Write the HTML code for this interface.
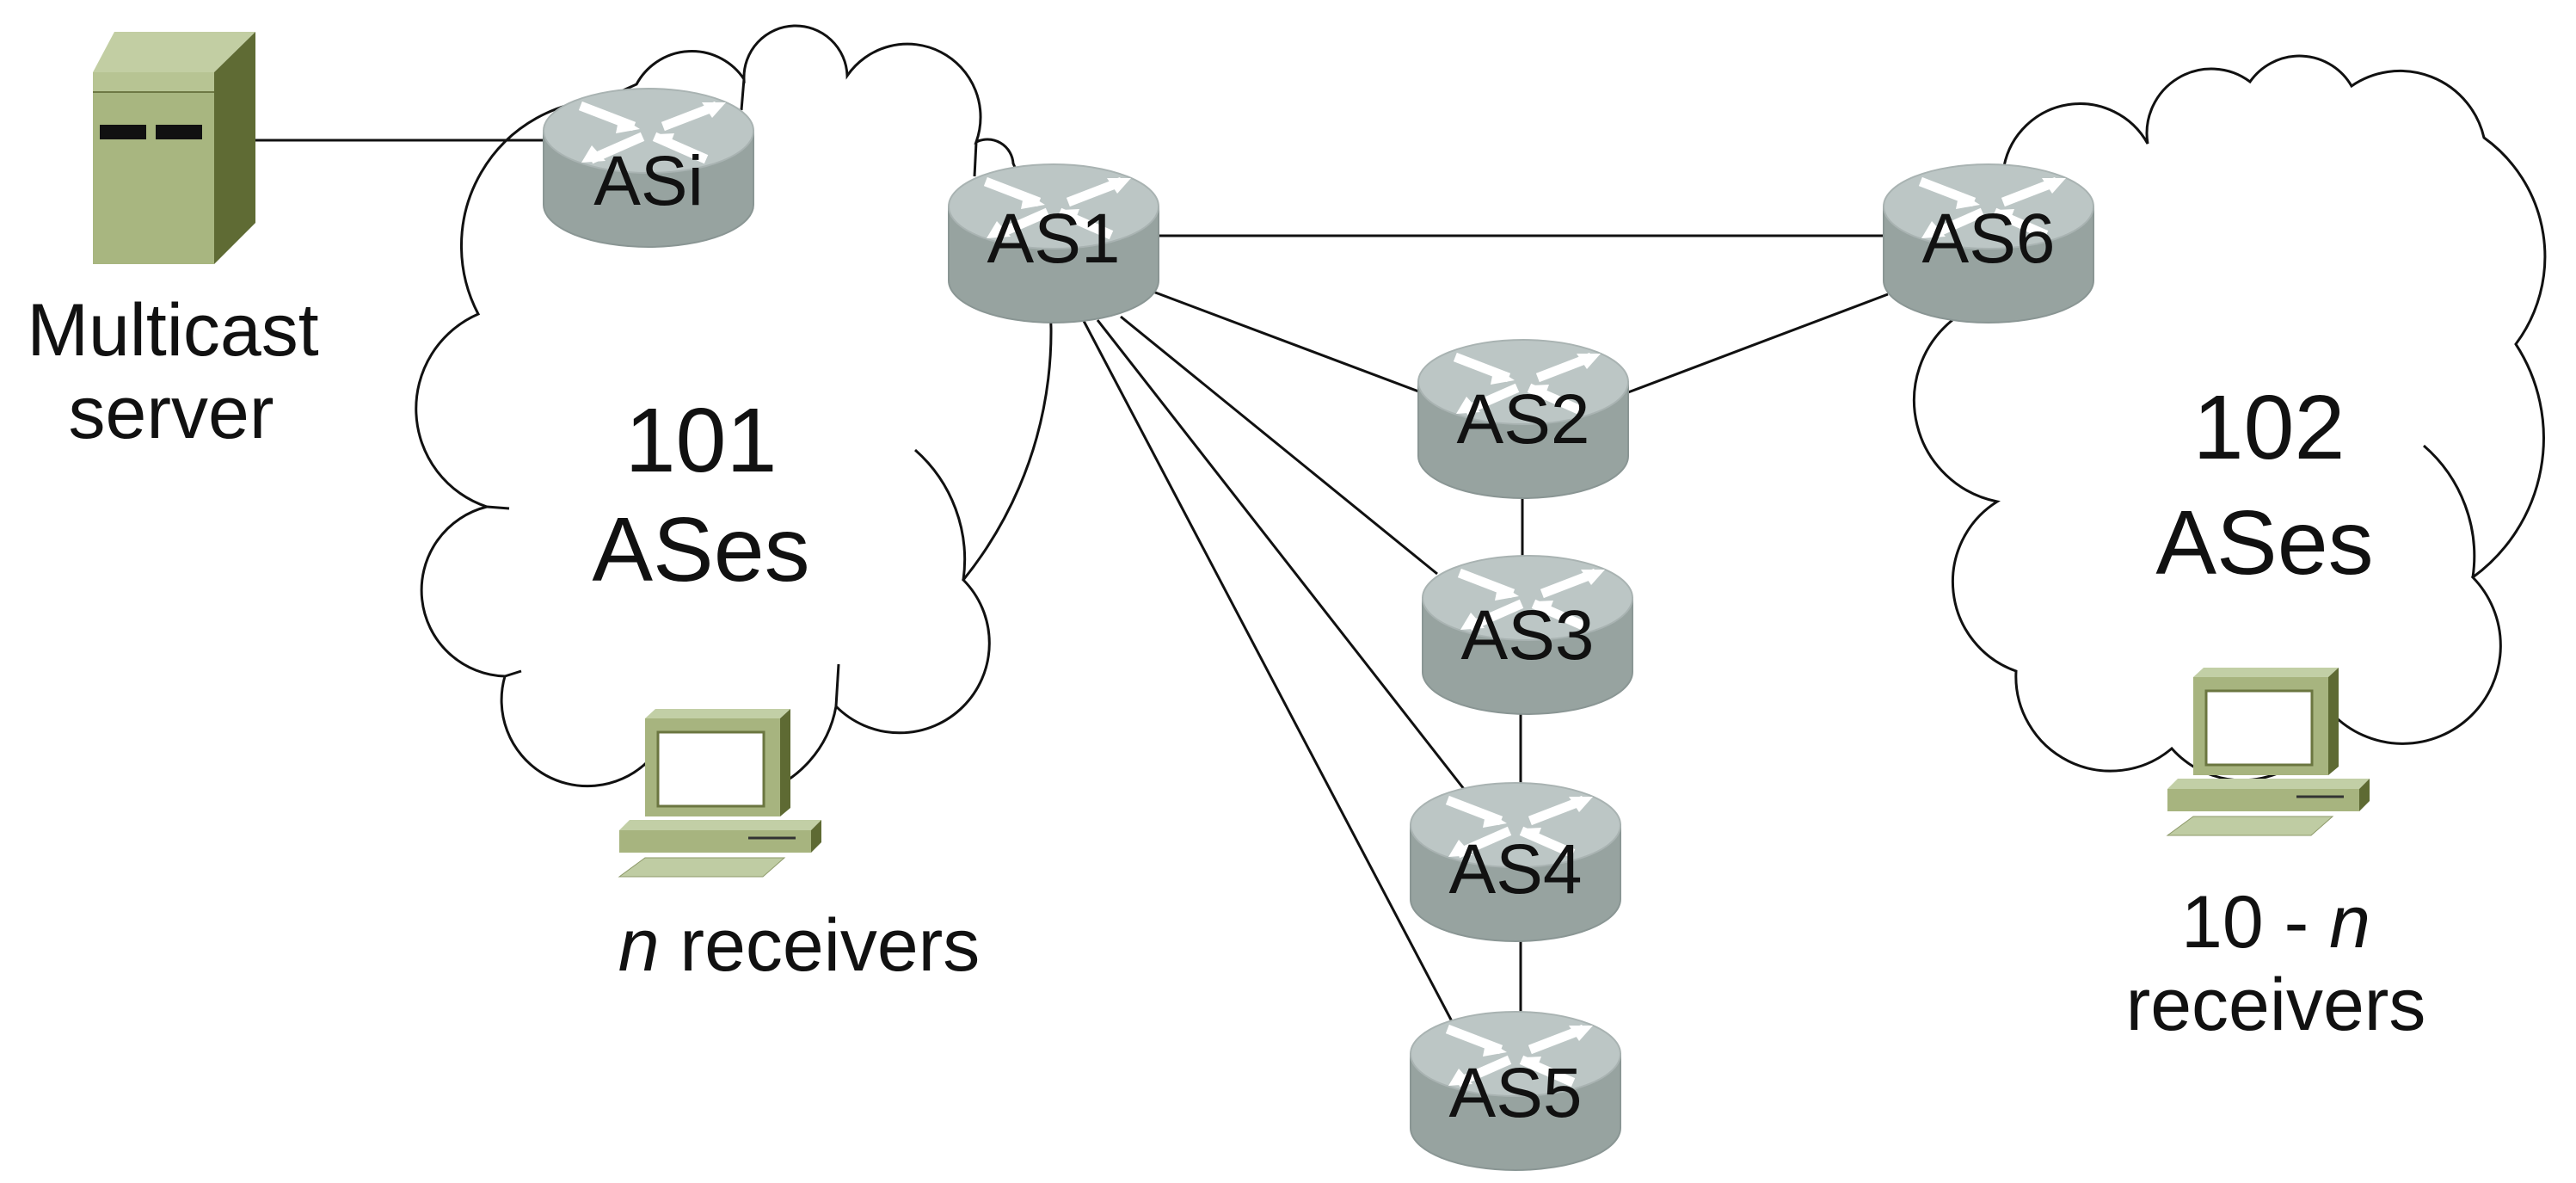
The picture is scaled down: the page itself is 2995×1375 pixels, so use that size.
<!DOCTYPE html>
<html><head><meta charset="utf-8"><style>
html,body{margin:0;padding:0;background:#fff;}
svg{display:block;}
text{font-family:"Liberation Sans",sans-serif;fill:#111;}
</style></head><body>
<svg width="2995" height="1375" viewBox="0 0 2995 1375" xmlns="http://www.w3.org/2000/svg">
<defs>
<g id="rt">
  <path d="M0,49 L0,135 A122,49 0 0 0 244,135 L244,49 Z" fill="#97a3a0" stroke="#8a9694" stroke-width="2"/>
  <ellipse cx="122" cy="49" rx="122" ry="49" fill="#bcc6c5" stroke="#a9b3b2" stroke-width="2"/>
  <g stroke="#fff" stroke-width="11" fill="none" stroke-linecap="square">
    <line x1="48" y1="22" x2="100" y2="42"/>
    <line x1="196" y1="22" x2="144" y2="42"/>
    <line x1="110" y1="58" x2="60" y2="80"/>
    <line x1="134" y1="58" x2="184" y2="80"/>
  </g>
  <g fill="#fff">
    <polygon points="112,47 88,32 84,52"/>
    <polygon points="212,16 184,16 196,34"/>
    <polygon points="44,86 56,66 72,84"/>
    <polygon points="132,53 152,52 146,68"/>
  </g>
</g>
<g id="pc">
  <polygon points="750,790 762,779 919,779 907,790" fill="#c2cfa6"/>
  <rect x="750" y="790" width="157" height="114" fill="#a7b47f"/>
  <polygon points="907,790 919,779 919,894 907,904" fill="#5e6a33"/>
  <rect x="765" y="806" width="123" height="86" fill="#fff" stroke="#6b7640" stroke-width="3"/>
  <polygon points="720,920 732,908 955,908 943,920" fill="#c2cfa6"/>
  <rect x="720" y="920" width="223" height="26" fill="#a7b47f"/>
  <polygon points="943,920 955,908 955,934 943,946" fill="#5e6a33"/>
  <line x1="870" y1="929" x2="925" y2="929" stroke="#333" stroke-width="3"/>
  <polygon points="720,974 750,952 912,952 887,974" fill="#bfcca3" stroke="#8e9a6a" stroke-width="1"/>
</g>
</defs>

<!-- clouds -->
<g fill="none" stroke="#111" stroke-width="3">
<path d="M556,365 A170,170 0 0 1 700,116 L740,98 A73,73 0 0 1 865,92 A60,60 0 0 1 985,88 A85,85 0 0 1 1135,165 A30,30 0 0 1 1178,190 A458,458 0 0 1 1120,674 A95,95 0 0 1 972,821 A130,130 0 0 1 750,888 A100,100 0 0 1 587,786 A100,100 0 0 1 566,589 A120,120 0 0 1 556,365 Z"/>
<path d="M1064,523 A170,170 0 0 1 1120,674"/>
<path d="M972,821 L975,772"/>
<path d="M566,589 L592,591"/>
<path d="M587,786 L606,780"/>
<path d="M865,92 L862,128"/>
<path d="M1135,165 L1133,205"/>
<path d="M2330,193 A90,90 0 0 1 2497,167 A75,75 0 0 1 2616,95 A70,70 0 0 1 2734,100 A100,100 0 0 1 2888,160 A170,170 0 0 1 2925,400 A200,200 0 0 1 2875,671 A110,110 0 0 1 2712,830 A110,110 0 0 1 2525,870 A110,110 0 0 1 2344,780 A110,110 0 0 1 2322,583 A120,120 0 0 1 2270,372 A150,150 0 0 1 2330,193 Z"/>
<path d="M2818,518 A170,170 0 0 1 2875,671"/>
<path d="M2322,583 L2322,583"/>
</g>

<!-- connectors -->
<g stroke="#111" stroke-width="3" fill="none">
<line x1="297" y1="163" x2="640" y2="163"/>
<line x1="1346" y1="274" x2="2190" y2="274"/>
<line x1="1338" y1="338" x2="1652" y2="456"/>
<line x1="1893" y1="456" x2="2195" y2="342"/>
<line x1="1770" y1="579" x2="1770" y2="650"/>
<line x1="1768" y1="829" x2="1768" y2="915"/>
<line x1="1768" y1="1092" x2="1768" y2="1180"/>
<line x1="1303" y1="368" x2="1671" y2="667"/>
<line x1="1276" y1="372" x2="1702" y2="917"/>
<line x1="1260" y1="373" x2="1689" y2="1189"/>
</g>

<!-- server -->
<polygon points="108,84 133,37 297,37 249,84" fill="#c2cea3"/>
<rect x="108" y="84" width="141" height="223" fill="#a8b680"/>
<rect x="108" y="84" width="141" height="23" fill="#b7c493"/>
<line x1="108" y1="107" x2="249" y2="107" stroke="#6e7945" stroke-width="2"/>
<polygon points="249,84 297,37 297,259 249,307" fill="#5f6b34"/>
<rect x="116" y="145" width="54" height="17" fill="#111"/>
<rect x="181" y="145" width="54" height="17" fill="#111"/>

<!-- routers -->
<use href="#rt" x="632" y="103"/>
<use href="#rt" x="1103" y="191"/>
<use href="#rt" x="2190" y="191"/>
<use href="#rt" x="1649" y="395"/>
<use href="#rt" x="1654" y="646"/>
<use href="#rt" x="1640" y="910"/>
<use href="#rt" x="1640" y="1176"/>
<g font-size="82" text-anchor="middle">
<text x="754" y="238">ASi</text>
<text x="1225" y="305">AS1</text>
<text x="2312" y="305">AS6</text>
<text x="1771" y="515">AS2</text>
<text x="1776" y="766">AS3</text>
<text x="1762" y="1038">AS4</text>
<text x="1762" y="1298">AS5</text>
</g>

<!-- PCs -->
<use href="#pc" y="45"/>
<use href="#pc" x="1800" y="-3"/>

<!-- labels -->
<g text-anchor="middle" font-size="86">
<text x="201" y="413">Multicast</text>
<text x="199" y="509">server</text>
<text x="929" y="1128"><tspan font-style="italic">n</tspan> receivers</text>
<text x="2646" y="1101">10 - <tspan font-style="italic">n</tspan></text>
<text x="2646" y="1197">receivers</text>
</g>
<g text-anchor="middle" font-size="106">
<text x="815" y="548">101</text>
<text x="815" y="675">ASes</text>
<text x="2638" y="533">102</text>
<text x="2633" y="667">ASes</text>
</g>
</svg>
</body></html>
